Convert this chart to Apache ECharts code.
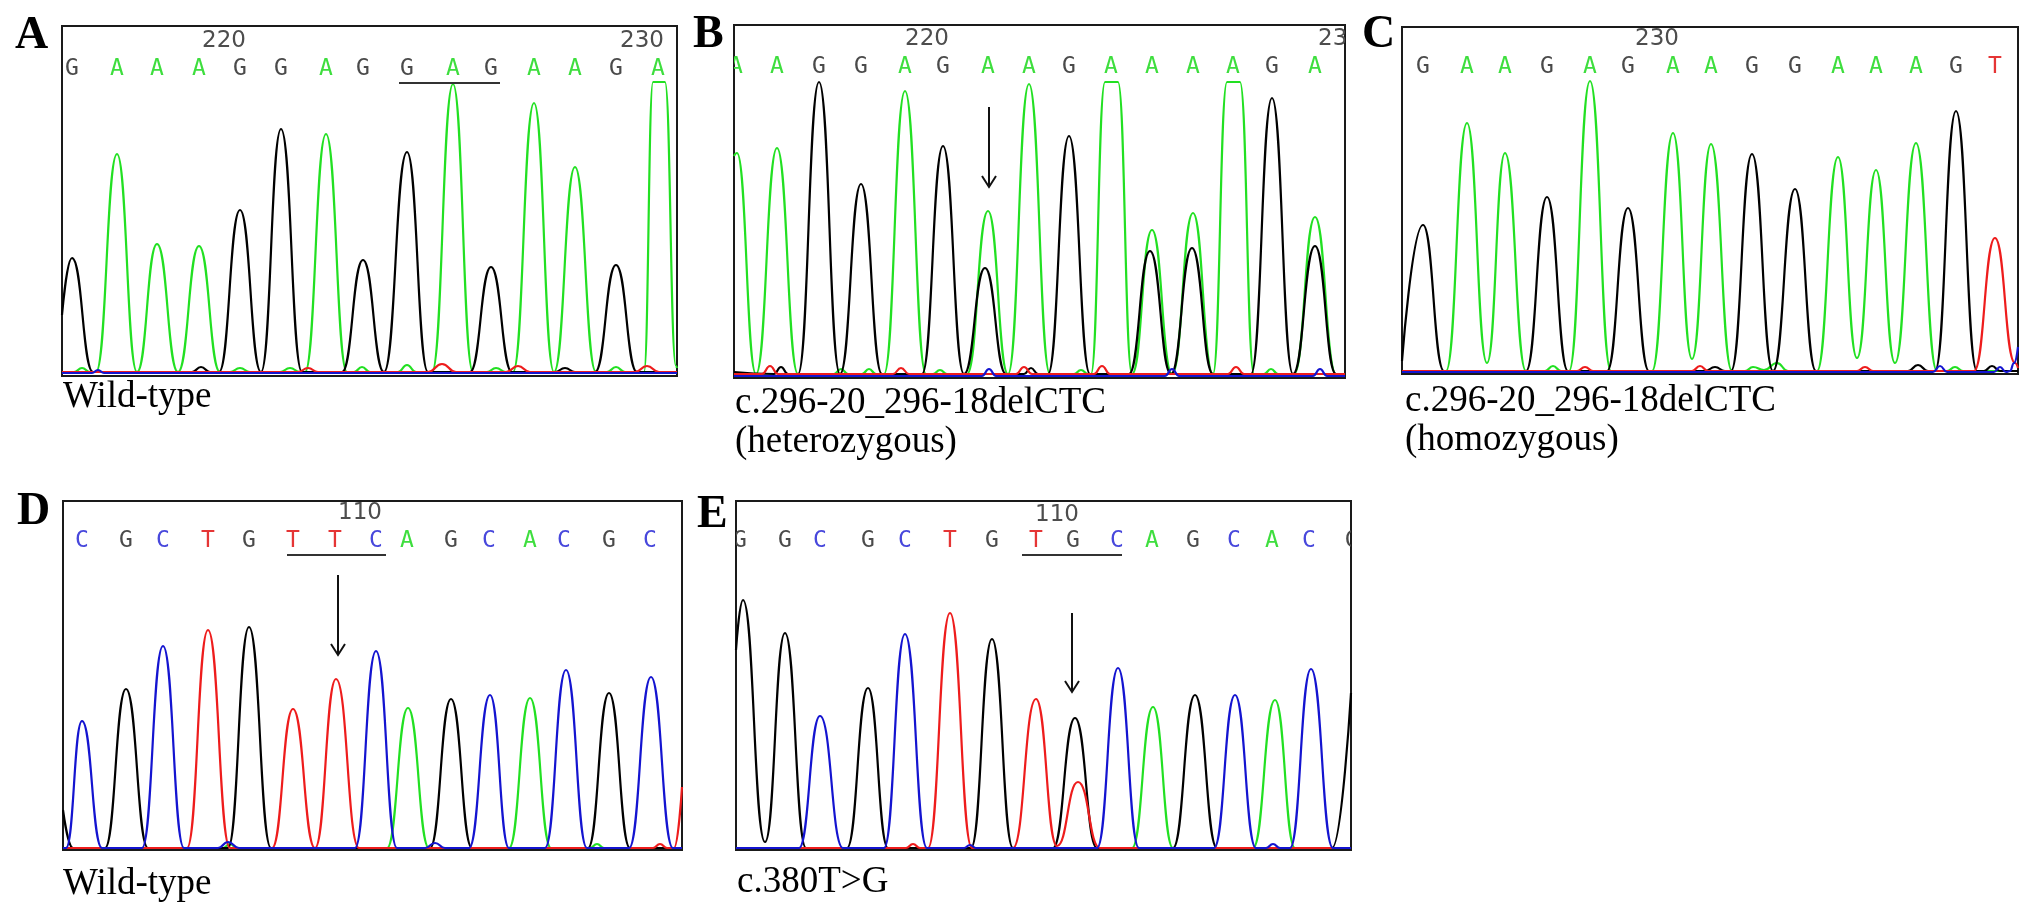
<!DOCTYPE html>
<html><head><meta charset="utf-8">
<script src="https://cdn.jsdelivr.net/npm/echarts@6/dist/echarts.min.js"></script>
<style>html,body{margin:0;padding:0;background:#fff}#c{width:2031px;height:917px}</style>
</head><body><div id="c"></div>
<script>
// ===== DATA (x = scan position within window, y = signal intensity) =====
// Panel A : wild-type
const A_seq = 'GAAAGGAGGAGAAGA';
const A_pos = [10,55,95,137,178,219,264,301,345,391,429,472,513,554,596];
const A_ticks = [[162,'220'],[580,'230']];
const A_underline = [337,438];
const A_black = [[0,57],[10,114],[31,0],[130,0],[139,5],[148,0],[157,0],[178,162],[199,0],[219,243],[240,0],[280,0],[301,112],[322,0],[345,220],[366,0],[408,0],[429,105],[450,0],[493,0],[503,4],[513,0],[533,0],[554,107],[575,0],[615,0]];
const A_green = [[0,0],[12,0],[20,4],[28,0],[34,0],[55,218],[75,0],[95,128],[116,0],[137,126],[158,0],[168,0],[178,4],[188,0],[218,0],[228,4],[238,0],[243,0],[264,238],[285,0],[292,0],[300,5],[308,0],[336,0],[345,7],[354,0],[370,0],[391,288],[411,0],[425,0],[434,4],[444,0],[451,0],[472,269],[492,0],[513,205],[534,0],[545,0],[554,5],[563,0],[582,0],[591,290],[603,290],[614,6],[615,4]];
const A_red = [[0,0],[236,0],[246,4],[256,0],[366,0],[380,8],[394,0],[444,0],[456,6],[468,0],[573,0],[585,6],[597,0],[615,0]];
const A_blue = [[0,-1],[30,-1],[36,2],[42,-1],[615,-1]];

// Panel B : heterozygous deletion
const B_seq = 'AAGGAGAAGAAAAGA';
const B_pos = [2,43,85,127,171,209,254,295,335,377,418,459,499,538,581];
const B_ticks = [[193,'220'],[606,'230']];
const B_arrow = [255,267,187];
const B_black = [[0,2],[40,0],[47,7],[54,0],[64,0],[85,292],[106,0],[127,190],[148,0],[188,0],[209,228],[230,0],[251,106],[272,0],[290,0],[297,6],[304,0],[314,0],[335,238],[356,0],[395,0],[416,123],[437,0],[458,126],[479,0],[517,0],[538,276],[559,0],[581,128],[602,0],[611,0]];
const B_green = [[0,218],[3,221],[22,0],[43,226],[64,0],[100,0],[107,5],[114,0],[128,0],[135,5],[142,0],[150,0],[171,283],[192,0],[199,0],[206,4],[213,0],[233,0],[254,163],[274,0],[295,290],[316,0],[340,0],[347,4],[354,0],[357,0],[371,292],[384,292],[398,0],[418,144],[438,0],[459,161],[479,0],[493,292],[506,292],[520,0],[530,0],[537,5],[544,0],[560,0],[581,157],[602,0],[611,0]];
const B_red = [[0,0],[28,0],[36,8],[44,0],[159,0],[167,6],[175,0],[282,0],[290,7],[298,0],[360,0],[368,8],[376,0],[494,0],[502,7],[510,0],[611,0]];
const B_blue = [[0,-2],[248,-2],[255,5],[262,-2],[431,-2],[438,5],[445,-2],[579,-2],[586,5],[593,-2],[611,-2]];

// Panel C : homozygous deletion
const C_seq = 'GAAGAGAAGGAAAGT';
const C_pos = [21,65,103,145,188,226,271,309,350,393,436,474,514,554,593];
const C_ticks = [[255,'230']];
const C_black = [[0,10],[21,146],[42,0],[124,0],[145,174],[166,0],[205,0],[226,163],[247,0],[303,0],[313,4],[323,0],[329,0],[350,217],[371,0],[393,182],[414,0],[506,0],[516,6],[526,0],[533,0],[554,260],[575,0],[582,0],[590,5],[598,0],[616,0]];
const C_green = [[0,0],[44,0],[65,248],[85,8],[103,218],[124,0],[143,0],[151,5],[159,0],[167,0],[188,290],[209,0],[250,0],[271,238],[290,12],[309,227],[330,0],[343,0],[351,4],[362,1],[375,8],[386,0],[415,0],[436,214],[455,13],[474,201],[493,8],[514,228],[535,0],[545,0],[553,4],[561,0],[616,0]];
const C_red = [[0,0],[175,0],[183,4],[191,0],[290,0],[298,5],[306,0],[455,0],[463,4],[471,0],[572,0],[593,133],[613,8],[616,3]];
const C_blue = [[0,-1],[531,-1],[538,5],[545,-1],[592,-1],[598,4],[604,-1],[608,0],[612,8],[616,24]];

// Panel D : wild-type
const D_seq = 'CGCTGTTCAGCACGC';
const D_pos = [19,63,100,145,186,230,272,313,344,388,426,467,501,546,587];
const D_ticks = [[297,'110']];
const D_underline = [224,323];
const D_arrow = [275,273,193];
const D_black = [[0,38],[10,0],[42,0],[63,159],[85,0],[165,0],[186,221],[208,0],[367,0],[388,149],[409,0],[525,0],[546,155],[567,0],[619,0]];
const D_green = [[0,0],[160,0],[167,4],[174,0],[324,0],[345,140],[366,0],[446,0],[467,150],[488,0],[527,0],[534,4],[541,0],[619,0]];
const D_red = [[0,0],[124,0],[145,218],[167,0],[209,0],[230,139],[252,0],[273,169],[296,0],[590,0],[597,4],[604,0],[611,0],[619,61]];
const D_blue = [[0,0],[3,0],[19,127],[39,0],[79,0],[100,202],[121,0],[155,0],[165,6],[176,0],[292,0],[313,197],[334,0],[362,0],[372,5],[382,0],[406,0],[427,153],[446,0],[482,0],[503,178],[524,0],[566,0],[588,171],[610,0],[619,0]];

// Panel E : c.380T>G
const E_seq = 'GGCGCTGTGCAGCACG';
const E_pos = [4,49,84,132,169,214,256,300,337,381,416,457,498,536,573,616];
const E_ticks = [[321,'110']];
const E_underline = [286,386];
const E_arrow = [336,235,156];
const E_black = [[0,198],[7,248],[29,6],[49,215],[70,0],[111,0],[132,160],[152,0],[235,0],[256,209],[277,0],[317,0],[339,130],[361,0],[437,0],[459,153],[481,0],[596,0],[615,155]];
const E_green = [[0,0],[396,0],[417,141],[437,0],[517,0],[539,148],[559,0],[615,0]];
const E_red = [[0,0],[170,0],[177,4],[184,0],[192,0],[214,235],[236,0],[277,0],[300,149],[321,2],[342,66],[364,0],[615,0]];
const E_blue = [[0,0],[63,0],[84,132],[107,0],[148,0],[169,214],[191,0],[228,0],[234,3],[240,0],[361,0],[382,180],[403,0],[478,0],[499,153],[520,0],[530,0],[537,4],[544,0],[554,0],[575,179],[597,0],[615,0]];

// ===== LAYOUT / STYLE =====
const traceColors = {green:'#22e022', black:'#000000', red:'#ee1c1c', blue:'#1414d0'};
const baseColors = {A:'#3ede3e', G:'#4a4a4a', C:'#4848dc', T:'#e53535'};
const panels = [
  {lab:'A', grid:{left:62,top:26,width:615,height:350}, y:[-4,346], rowBase:303, rowNum:331, rowLine:289,
   seq:A_seq, pos:A_pos, ticks:A_ticks, underline:A_underline, arrow:null,
   tr:{green:A_green,black:A_black,red:A_red,blue:A_blue}, labXY:[15,36], cap:['Wild-type'], capXY:[63,397]},
  {lab:'B', grid:{left:734,top:25,width:611,height:353}, y:[-4,349], rowBase:307, rowNum:335, rowLine:0,
   seq:B_seq, pos:B_pos, ticks:B_ticks, underline:null, arrow:B_arrow,
   tr:{green:B_green,black:B_black,red:B_red,blue:B_blue}, labXY:[693,35], cap:['c.296-20_296-18delCTC','(heterozygous)'], capXY:[735,403]},
  {lab:'C', grid:{left:1402,top:27,width:616,height:347}, y:[-3,344], rowBase:304, rowNum:332, rowLine:0,
   seq:C_seq, pos:C_pos, ticks:C_ticks, underline:null, arrow:null,
   tr:{green:C_green,black:C_black,red:C_red,blue:C_blue}, labXY:[1362,35], cap:['c.296-20_296-18delCTC','(homozygous)'], capXY:[1405,401]},
  {lab:'D', grid:{left:63,top:501,width:619,height:349}, y:[-2,347], rowBase:307, rowNum:335, rowLine:293,
   seq:D_seq, pos:D_pos, ticks:D_ticks, underline:D_underline, arrow:D_arrow,
   tr:{green:D_green,black:D_black,red:D_red,blue:D_blue}, labXY:[17,512], cap:['Wild-type'], capXY:[63,884]},
  {lab:'E', grid:{left:736,top:501,width:615,height:349}, y:[-2,347], rowBase:307, rowNum:333, rowLine:293,
   seq:E_seq, pos:E_pos, ticks:E_ticks, underline:E_underline, arrow:E_arrow,
   tr:{green:E_green,black:E_black,red:E_red,blue:E_blue}, labXY:[697,515], cap:['c.380T>G'], capXY:[737,882]}
];

function textSeries(gi, items, font) {
  return {
    type:'custom', xAxisIndex:gi, yAxisIndex:gi, clip:true, silent:true, z:5,
    data: items.map(it => [it.x, it.y]),
    renderItem: (params, api) => {
      const it = items[params.dataIndex];
      const p = api.coord([api.value(0), api.value(1)]);
      return {type:'text', x:p[0], y:p[1],
        style:{text:it.text, fill:it.color, font:font, align:'center', verticalAlign:'middle',
               textAlign:'center', textVerticalAlign:'middle'}};
    }
  };
}

const grids = [], xAxes = [], yAxes = [], series = [], graphics = [];
panels.forEach((P, gi) => {
  grids.push(Object.assign({show:true, borderColor:'#1a1a1a', borderWidth:2, backgroundColor:'transparent'}, P.grid));
  xAxes.push({gridIndex:gi, type:'value', min:0, max:P.grid.width, show:false});
  yAxes.push({gridIndex:gi, type:'value', min:P.y[0], max:P.y[1], show:false});
  ['green','black','red','blue'].forEach(ch => {
    series.push({type:'line', xAxisIndex:gi, yAxisIndex:gi, data:P.tr[ch], smooth:0.5, smoothMonotone:'x',
      showSymbol:false, symbol:'none', clip:true, silent:true,
      lineStyle:{color:traceColors[ch], width:2.2}, z:2});
  });
  // base calls
  const baseItems = P.seq.split('').map((b, i) => ({x:P.pos[i], y:P.rowBase, text:b, color:baseColors[b]}));
  series.push(textSeries(gi, baseItems, '23px "DejaVu Sans Mono"'));
  // position numbers
  const numItems = P.ticks.map(t => ({x:t[0], y:P.rowNum, text:t[1], color:'#4d4d4d'}));
  series.push(textSeries(gi, numItems, '23px "DejaVu Sans"'));
  if (P.underline) {
    series.push({type:'line', xAxisIndex:gi, yAxisIndex:gi, data:[[P.underline[0],P.rowLine],[P.underline[1],P.rowLine]],
      showSymbol:false, symbol:'none', silent:true, lineStyle:{color:'#333', width:2}, z:4});
  }
  if (P.arrow) {
    series.push({type:'custom', xAxisIndex:gi, yAxisIndex:gi, silent:true, z:6, data:[P.arrow],
      renderItem:(params, api) => {
        const p0 = api.coord([api.value(0), api.value(1)]);
        const p1 = api.coord([api.value(0), api.value(2)]);
        return {type:'group', children:[
          {type:'line', shape:{x1:p0[0], y1:p0[1], x2:p1[0], y2:p1[1]}, style:{stroke:'#111', lineWidth:2}},
          {type:'polyline', shape:{points:[[p1[0]-7,p1[1]-11],[p1[0],p1[1]],[p1[0]+7,p1[1]-11]]}, style:{stroke:'#111', lineWidth:2, fill:null}}
        ]};
      }});
  }
  graphics.push({type:'text', x:P.labXY[0], y:P.labXY[1],
    style:{text:P.lab, font:'bold 46px "Liberation Serif"', fill:'#000', align:'left', verticalAlign:'middle',
           textAlign:'left', textVerticalAlign:'middle'}});
  P.cap.forEach((line, li) => {
    graphics.push({type:'text', x:P.capXY[0], y:P.capXY[1] + li*39,
      style:{text:line, font:'37px "Liberation Serif"', fill:'#000', align:'left', verticalAlign:'middle',
             textAlign:'left', textVerticalAlign:'middle'}});
  });
});

const chart = echarts.init(document.getElementById('c'), null, {renderer:'canvas'});
chart.setOption({
  animation:false,
  backgroundColor:'#ffffff',
  grid:grids, xAxis:xAxes, yAxis:yAxes, series:series, graphic:graphics
});
</script></body></html>
